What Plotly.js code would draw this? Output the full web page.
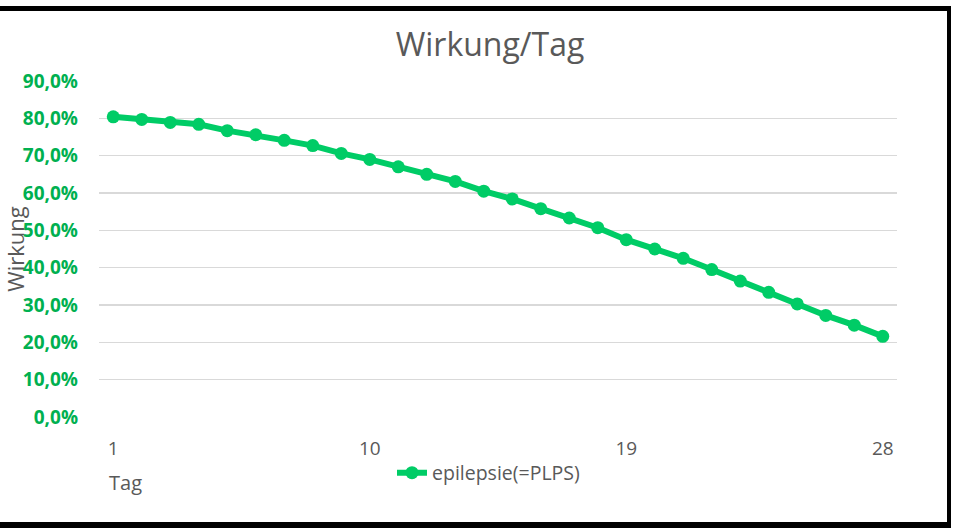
<!DOCTYPE html>
<html>
<head>
<meta charset="utf-8">
<script src="https://cdn.plot.ly/plotly-3.0.1.min.js"></script>
<style>
html,body{margin:0;padding:0;background:#fff;}
#wrap{position:relative;width:954px;height:528px;overflow:hidden;}
#chart{position:absolute;left:0;top:0;width:954px;height:528px;}
.b{position:absolute;background:#000;}
</style>
</head>
<body>
<div id="wrap">
<div id="chart"></div>
<div class="b" style="left:0;top:6px;width:951px;height:5px;"></div>
<div class="b" style="left:947px;top:6px;width:4px;height:522px;"></div>
<div class="b" style="left:0;top:522px;width:951px;height:6px;"></div>
</div>
<script>
const days = [1,2,3,4,5,6,7,8,9,10,11,12,13,14,15,16,17,18,19,20,21,22,23,24,25,26,27,28];
const wirkung = [0.804,0.797,0.789,0.784,0.767,0.756,0.741,0.727,0.706,0.690,0.670,0.650,0.631,0.605,0.584,0.558,0.533,0.507,0.475,0.450,0.425,0.395,0.364,0.334,0.303,0.272,0.246,0.216];
const seriesName = "epilepsie(=PLPS)";
const xTickVals = [1,10,19,28];
const yTickVals = [0,0.1,0.2,0.3,0.4,0.5,0.6,0.7,0.8,0.9];

const green = "#00CC66";
const gray = "#595959";
const font = "'Open Sans', sans-serif";

const trace = {
  x: days, y: wirkung, name: seriesName, type: "scatter", mode: "lines+markers",
  line: {color: green, width: 6},
  marker: {color: green, size: 13},
  hoverinfo: "x+y"
};

const layout = {
  width: 954, height: 528,
  margin: {l: 99, r: 57, t: 81, b: 111, pad: 0},
  paper_bgcolor: "#fff", plot_bgcolor: "#fff",
  separators: ",.",
  font: {family: font, color: gray},
  title: {text: "Wirkung/Tag", font: {family: font, size: 32, color: gray},
          xref: "container", x: 490/954, xanchor: "center",
          yref: "container", y: 1 - 45/528, yanchor: "middle"},
  xaxis: {range: [0.5, 28.5], tickvals: xTickVals, ticktext: xTickVals.map(String),
          showgrid: false, zeroline: false, showline: false, ticks: "",
          tickfont: {family: font, size: 19, color: gray}, ticklabelstandoff: 18,
          fixedrange: true},
  yaxis: {range: [0, 0.9], tickvals: yTickVals, tickformat: ".1%",
          showgrid: true, gridcolor: "#D9D9D9", gridwidth: 1.5,
          zeroline: false, showline: false, ticks: "",
          tickfont: {family: font, size: 19, color: "#00B050", weight: "bold"},
          ticklabelstandoff: 20,
          title: {text: "Wirkung", font: {family: font, size: 22, color: gray}, standoff: 0},
          fixedrange: true},
  showlegend: true,
  legend: {orientation: "h", x: (392 - 99) / 798, xanchor: "left",
           y: 1 - (473 - 81) / (417 - 81), yanchor: "middle", yref: "paper",
           font: {family: font, size: 19.5, color: gray}, bgcolor: "rgba(0,0,0,0)"},
  annotations: [{text: "Tag", xref: "paper", yref: "paper", x: (107 - 99) / 798, xanchor: "left",
                 y: 1 - (482 - 81) / (417 - 81), yanchor: "middle", showarrow: false,
                 font: {family: font, size: 20, color: gray}}]
};

Plotly.newPlot("chart", [trace], layout, {displayModeBar: false, staticPlot: true});
</script>
</body>
</html>
